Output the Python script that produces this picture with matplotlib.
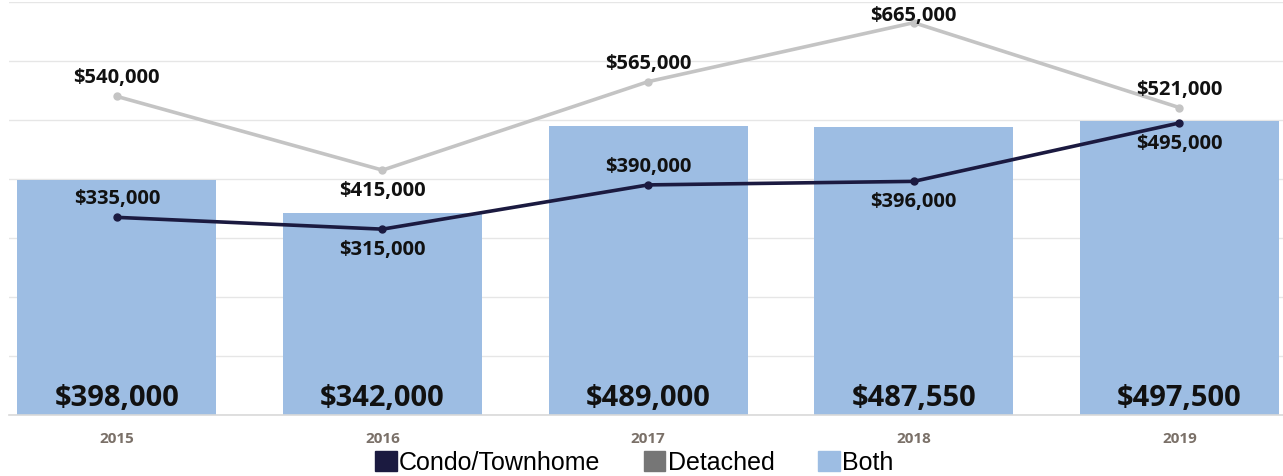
import matplotlib
matplotlib.use("Agg")
import matplotlib.pyplot as plt
from matplotlib.patches import Patch
import numpy as np

years = ["2015", "2016", "2017", "2018", "2019"]
both = [398000, 342000, 489000, 487550, 497500]
condo = [335000, 315000, 390000, 396000, 495000]
detached = [540000, 415000, 565000, 665000, 521000]

condo_pos = ["above", "below", "above", "below", "below"]
det_pos = ["above", "below", "above", "top", "above"]

BAR = "#9dbde3"
NAVY = "#1b1a40"
GRAY = "#c4c4c4"
LABFONT = "Open Sans"

fig = plt.figure(figsize=(12.83, 4.76), dpi=100)
W, H = 1283, 476
ax = fig.add_axes([9 / W, (H - 415) / H, (W - 9) / W, 413 / H])

x = np.arange(len(years))
ax.bar(x, both, width=0.75, color=BAR, zorder=2)
ax.plot(x, detached, color=GRAY, lw=2.6, marker="o", ms=5, zorder=3)
ax.plot(x, condo, color=NAVY, lw=2.6, marker="o", ms=5, zorder=4)

ax.set_xlim(-0.406, 4.39)
ax.set_ylim(0, 700000)
ax.set_yticks(np.arange(0, 700001, 100000))
ax.yaxis.grid(True, color="#e6e6e6", lw=1, zorder=0)
ax.set_axisbelow(True)
ax.tick_params(axis="y", length=0, labelleft=False)
ax.tick_params(axis="x", length=0, pad=12)
ax.set_xticks(x)
ax.set_xticklabels(years, fontsize=11, fontweight="bold", color="#7a7068", family=LABFONT)
for s in ["top", "right", "left"]:
    ax.spines[s].set_visible(False)
ax.spines["bottom"].set_color("#d9d9d9")
ax.spines["bottom"].set_linewidth(1.2)

def fmt(v):
    return "${:,}".format(v)

for i, v in enumerate(both):
    ax.text(i, 3000, fmt(v), ha="center", va="bottom", fontsize=21,
            fontweight="bold", family=LABFONT, color="#111111", zorder=5)

offsets = {"above": 13, "below": -15, "top": 5}

for i, v in enumerate(detached):
    ax.annotate(fmt(v), (i, v), textcoords="offset points", xytext=(0, offsets[det_pos[i]]),
                ha="center", va="center", fontsize=14.5, fontweight="bold",
                family=LABFONT, color="#111111", zorder=6)

for i, v in enumerate(condo):
    ax.annotate(fmt(v), (i, v), textcoords="offset points", xytext=(0, offsets[condo_pos[i]]),
                ha="center", va="center", fontsize=14.5, fontweight="bold",
                family=LABFONT, color="#111111", zorder=6)

handles = [Patch(color=NAVY, label="Condo/Townhome"),
           Patch(color="#767676", label="Detached"),
           Patch(color=BAR, label="Both")]
fig.legend(handles=handles, loc="center", bbox_to_anchor=(0.4945, (H - 463) / H),
           ncol=3, frameon=False, prop={"family": "Liberation Sans", "size": 18},
           handlelength=0.85, handleheight=0.85, handletextpad=0.1, columnspacing=1.75,
           borderaxespad=0, borderpad=0)

fig.savefig("out.png", dpi=100)
